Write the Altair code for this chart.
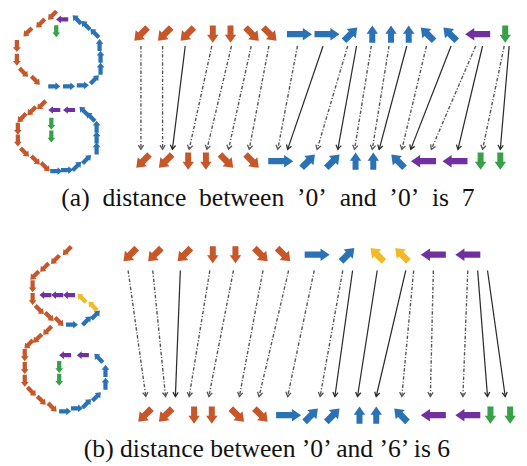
import math
import altair as alt
import pandas as pd

# ---------------- data ----------------
# direction sequences of the two rows in each panel
a_top_dir = ["SW", "SW", "SW", "S", "S", "SE", "SE", "E", "E", "NE", "N", "N", "N", "NW", "NW", "W", "S"]
a_top_grp = ["o"] * 7 + ["b"] * 8 + ["p", "g"]
a_top_x = [143, 167, 190, 216, 234, 256, 274, 304, 332, 356, 378, 397, 415, 434, 457, 485, 513]

zero_dir = ["SW", "SW", "S", "S", "SE", "SE", "E", "NE", "NE", "N", "N", "NW", "W", "W", "S", "S"]
zero_grp = ["o"] * 6 + ["b"] * 6 + ["p", "p", "g", "g"]
a_bot_x = [145, 168, 191, 209, 230, 256, 285, 313, 338, 361, 379, 404, 430, 462, 488, 508]

b_top_dir = ["SW", "SW", "SW", "S", "S", "SE", "SE", "E", "NE", "NW", "NW", "W", "W"]
b_top_grp = ["o"] * 7 + ["b", "b", "y", "y", "p", "p"]
b_top_x = [132, 157, 187, 216, 239, 265, 288, 322, 353, 383, 408, 440, 475]
b_bot_x = [147, 168, 197, 215, 241, 265, 293, 316, 338, 365, 382, 407, 440, 475, 498, 518]

row_y = {"a_top": 31, "a_bot": 160, "b_top": 255, "b_bot": 418}

# alignment links: start x, end x, kind (d = matched / dotted, s = extra cost / solid)
a_link_x1 = [143, 165, 188, 215, 235, 255, 273, 302, 328, 353, 362, 377, 395, 413, 433, 458, 483, 490, 512, 517]
a_link_x2 = [143, 165, 175, 192, 210, 232, 253, 282, 292, 322, 343, 360, 378, 385, 408, 417, 438, 465, 490, 508]
a_link_kind = ["d", "d", "s", "d", "d", "d", "d", "d", "s", "d", "s", "d", "d", "s", "d", "s", "d", "s", "d", "s"]
a_link_y = (43, 148)

b_link_x1 = [130, 155, 183, 213, 237, 267, 293, 319, 348, 358, 383, 412, 420, 440, 475, 485, 495]
b_link_x2 = [148, 168, 178, 192, 212, 243, 263, 292, 325, 340, 363, 382, 408, 437, 470, 495, 513]
b_link_kind = ["d", "d", "s", "d", "d", "d", "d", "d", "d", "s", "s", "s", "d", "d", "d", "s", "s"]
b_link_y = (271, 399)

# stroke sketches of the digits (x, y, direction, colour group)
sk_a1 = [(53, 12, "SW", "o"), (41, 20, "SW", "o"), (28, 29, "SW", "o"), (17, 43, "S", "o"), (17, 57, "S", "o"),
         (24, 70, "SE", "o"), (36, 78, "SE", "o"), (55, 84, "E", "b"), (70, 84, "E", "b"), (84, 83, "E", "b"),
         (96, 77, "NE", "b"), (102, 66, "N", "b"), (102, 54, "N", "b"), (101, 42, "N", "b"), (96, 30, "NW", "b"),
         (87, 22, "NW", "b"), (78, 16, "NW", "b"), (63, 16, "W", "p"), (57, 28, "S", "g")]
sk_a2 = [(42, 103, "SW", "o"), (32, 109, "SW", "o"), (22, 116, "SW", "o"), (18, 127, "S", "o"), (18, 139, "S", "o"),
         (25, 151, "SE", "o"), (36, 159, "SE", "o"), (46, 166, "SE", "o"), (57, 170, "E", "b"), (68, 169, "E", "b"),
         (78, 165, "NE", "b"), (88, 158, "NE", "b"), (98, 147, "N", "b"), (98, 136, "N", "b"), (98, 125, "N", "b"),
         (92, 115, "NW", "b"), (85, 109, "NW", "b"), (70, 108, "W", "p"), (55, 108, "W", "p"),
         (52, 122, "S", "g"), (52, 135, "S", "g")]
sk_b1 = [(68, 251, "SW", "o"), (56, 260, "SW", "o"), (45, 268, "SW", "o"), (35, 276, "SW", "o"), (33, 287, "S", "o"),
         (33, 300, "S", "o"), (40, 311, "SE", "o"), (50, 318, "SE", "o"), (60, 323, "SE", "o"), (73, 326, "E", "b"),
         (88, 322, "NE", "b"), (97, 316, "NE", "b"), (94, 307, "NW", "y"), (83, 299, "NW", "y"),
         (70, 296, "W", "p"), (58, 296, "W", "p"), (46, 296, "W", "p")]
sk_b2 = [(48, 332, "SW", "o"), (38, 340, "SW", "o"), (29, 346, "SW", "o"), (25, 357, "S", "o"), (25, 370, "S", "o"),
         (25, 383, "S", "o"), (32, 394, "SE", "o"), (42, 403, "SE", "o"), (53, 410, "SE", "o"), (66, 414, "E", "b"),
         (78, 411, "E", "b"), (88, 406, "NE", "b"), (98, 399, "NE", "b"), (107, 386, "N", "b"), (107, 373, "N", "b"),
         (100, 360, "NW", "b"), (84, 357, "W", "p"), (66, 357, "W", "p"), (60, 369, "S", "g"), (60, 382, "S", "g")]

captions = ["(a)\u2002distance\u2002between\u2002\u20190\u2019\u2002and\u2002\u20190\u2019\u2002is\u20027",
            "(b) distance between \u20190\u2019 and \u20196\u2019 is 6"]
caption_x = [272, 271]
caption_y = [206, 460]

# ---------------- styles ----------------
DIRS = ["E", "SE", "S", "SW", "W", "NW", "N", "NE"]
ANG = {d: 45 * i for i, d in enumerate(DIRS)}
GROUPS = ["o", "b", "p", "g", "y"]
COLORS = ["#C5572A", "#2B72B4", "#7030A0", "#38A047", "#F2B929"]


def arrow_path(deg, h, hl, hw, sw):
    pts = [(-h, -sw), (h - hl, -sw), (h - hl, -hw), (h, 0), (h - hl, hw), (h - hl, sw), (-h, sw)]
    t = math.radians(deg)
    c, s = math.cos(t), math.sin(t)
    q = [(x * c - y * s, x * s + y * c) for x, y in pts]
    return "M" + " L".join(f"{x:.3f},{y:.3f}" for x, y in q) + " Z"


def row_shape(d):
    if d in ("E", "W"):
        return arrow_path(ANG[d], 0.96, 0.7, 0.48, 0.24)
    if d in ("N", "S"):
        return arrow_path(ANG[d], 0.66, 0.62, 0.44, 0.23)
    return arrow_path(ANG[d], 0.72, 0.66, 0.5, 0.25)


row_paths = [row_shape(d) for d in DIRS]
sk_paths = [arrow_path(ANG[d], 1.0, 0.8, 0.64, 0.35) for d in DIRS]

# ---------------- tables ----------------
rows = []
for key, dirs, grps, xs in [("a_top", a_top_dir, a_top_grp, a_top_x),
                            ("a_bot", zero_dir, zero_grp, a_bot_x),
                            ("b_top", b_top_dir, b_top_grp, b_top_x),
                            ("b_bot", zero_dir, zero_grp, b_bot_x)]:
    for d, g, x in zip(dirs, grps, xs):
        rows.append({"x": x, "y": row_y[key], "dir": d, "grp": g})
rows_df = pd.DataFrame(rows)

sk_df = pd.DataFrame([{"x": x, "y": y, "sdir": d, "grp": g}
                      for sk in (sk_a1, sk_a2, sk_b1, sk_b2) for x, y, d, g in sk])

links = []
for x1s, x2s, kinds, (y1, y2) in [(a_link_x1, a_link_x2, a_link_kind, a_link_y),
                                  (b_link_x1, b_link_x2, b_link_kind, b_link_y)]:
    for x1, x2, k in zip(x1s, x2s, kinds):
        ang = math.degrees(math.atan2(-(x2 - x1), (y2 - y1))) % 360
        links.append({"x": x1, "y": y1, "x2": x2, "y2": y2, "kind": k, "ang": ang})
links_df = pd.DataFrame(links)
dot_df = links_df[links_df.kind == "d"]
sol_df = links_df[links_df.kind == "s"]

cap_df = pd.DataFrame({"text": captions, "x": caption_x, "y": caption_y})

# ---------------- chart ----------------
W, H = 519, 458
xs = alt.Scale(domain=[8, 8 + W], nice=False, zero=False)
ys = alt.Scale(domain=[8, 8 + H], nice=False, zero=False, reverse=True)


def X(f="x"):
    return alt.X(f"{f}:Q", scale=xs, axis=None)


def Y(f="y"):
    return alt.Y(f"{f}:Q", scale=ys, axis=None)


color = alt.Color("grp:N", scale=alt.Scale(domain=GROUPS, range=COLORS), legend=None)

DOT_C = "#555555"
SOL_C = "#2b2b2b"

dotted = alt.Chart(dot_df).mark_rule(color=DOT_C, strokeWidth=1.4, strokeDash=[3.5, 1.8, 1.2, 1.8]).encode(
    x=X(), y=Y(), x2="x2:Q", y2="y2:Q")
solid = alt.Chart(sol_df).mark_rule(color=SOL_C, strokeWidth=1.25).encode(
    x=X(), y=Y(), x2="x2:Q", y2="y2:Q")

vpath = "M-0.8,-1.3 L0,0 L0.8,-1.3"
dot_heads = alt.Chart(dot_df).mark_point(shape=vpath, filled=False, size=44, color=DOT_C,
                                         strokeWidth=1.3, opacity=1).encode(
    x=X("x2"), y=Y("y2"), angle=alt.Angle("ang:Q", scale=None))
sol_heads = alt.Chart(sol_df).mark_point(shape=vpath, filled=False, size=44, color=SOL_C,
                                         strokeWidth=1.3, opacity=1).encode(
    x=X("x2"), y=Y("y2"), angle=alt.Angle("ang:Q", scale=None))

row_marks = alt.Chart(rows_df).mark_point(filled=True, opacity=1, size=700, strokeWidth=0).encode(
    x=X(), y=Y(), color=color,
    shape=alt.Shape("dir:N", scale=alt.Scale(domain=DIRS, range=row_paths), legend=None))

sk_marks = alt.Chart(sk_df).mark_point(filled=True, opacity=1, size=150, strokeWidth=0).encode(
    x=X(), y=Y(), color=color,
    shape=alt.Shape("sdir:N", scale=alt.Scale(domain=DIRS, range=sk_paths), legend=None))

caps = alt.Chart(cap_df).mark_text(font="Liberation Serif", fontSize=26, color="#111111",
                                   align="center", baseline="alphabetic").encode(
    x=X(), y=Y(), text="text:N")

chart = alt.layer(dotted, solid, dot_heads, sol_heads, row_marks, sk_marks, caps).resolve_scale(
    shape="independent"
).properties(
    width=W, height=H, padding=0, autosize=alt.AutoSizeParams(type="none")
).configure_view(stroke=None)

chart.save("out.html", embed_options={"renderer": "svg", "actions": False})
